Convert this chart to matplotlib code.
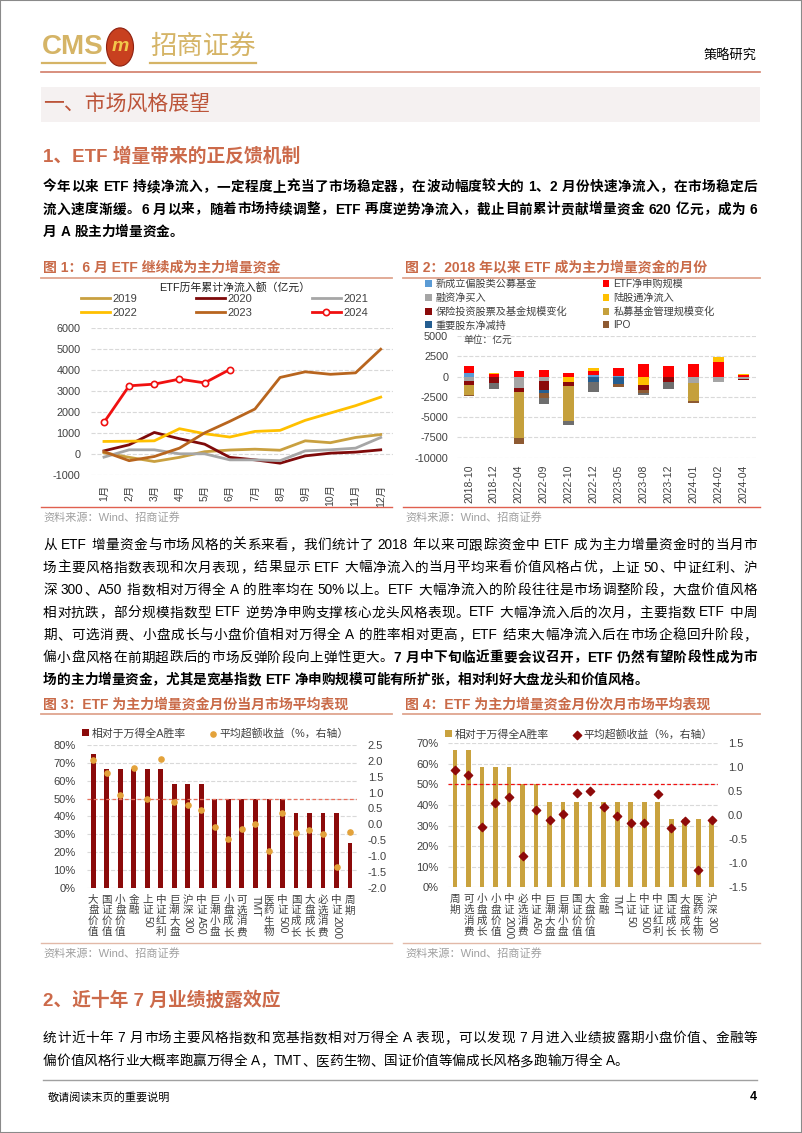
import matplotlib
matplotlib.use('Agg')
import matplotlib.pyplot as plt
from matplotlib.patches import Rectangle, Circle
from matplotlib.lines import Line2D
from matplotlib.ticker import PercentFormatter, FormatStrFormatter, MultipleLocator

plt.rcParams['font.family'] = ['Liberation Sans', 'Noto Sans CJK SC']
plt.rcParams['axes.unicode_minus'] = False

# ---------------- data ----------------
months = ['1月', '2月', '3月', '4月', '5月', '6月', '7月', '8月', '9月', '10月', '11月', '12月']
etf2019 = [50, -170, -370, -170, 100, 180, 220, 170, 620, 530, 780, 920]
etf2020 = [140, 430, 1020, 720, 460, -170, -290, -450, -100, 30, 80, 190]
etf2021 = [-160, 190, 190, 0, 0, -290, -290, -330, 140, 190, 270, 780]
etf2022 = [590, 600, 620, 1200, 960, 800, 1070, 1120, 1600, 1950, 2300, 2710]
etf2023 = [100, -330, -130, 270, 1000, 1550, 2140, 3650, 3920, 3800, 3870, 5000]
etf2024 = [1500, 3250, 3330, 3570, 3390, 4030]

flow_months = ['2018-10', '2018-12', '2022-04', '2022-09', '2022-10', '2022-12',
               '2023-05', '2023-08', '2023-12', '2024-01', '2024-02', '2024-04']
new_fund = [450, 0, 0, 0, 0, 250, 100, 0, 0, 0, 0, 0]
etf_sub = [900, 350, 650, 850, 500, 400, 1000, 1600, 1250, 1550, 1750, 200]
margin = [-500, 0, -1400, -600, 0, 0, 0, 0, 0, -800, -700, -250]
northbound = [0, 150, 0, 0, -700, 400, 0, -1100, 0, 0, 700, 150]
insurance = [-600, -800, -500, -1000, -500, 0, 0, -600, -700, 0, 0, -150]
private_fund = [-1200, 0, -5700, 0, -4300, 0, 0, 0, 0, -2200, 0, 0]
holder_sell = [0, 0, 0, -400, 0, -700, -900, 0, 0, 0, 0, 0]
ipo = [-150, 0, -700, -600, 0, 0, -400, -300, 0, -200, 0, 0]
other = [0, -750, 0, -800, -500, -1200, 0, -300, -800, 0, 0, 0]

cur_names = ['大盘价值', '国证价值', '小盘价值', '金融', '上证50', '中证红利', '巨潮大盘', '沪深300',
             '中证A50', '巨潮小盘', '小盘成长', '可选消费', 'TMT', '医药生物', '中证500', '国证成长',
             '大盘成长', '必选消费', '中证2000', '周期']
cur_win = [0.75, 0.667, 0.667, 0.667, 0.667, 0.667, 0.583, 0.583, 0.583, 0.5, 0.5, 0.5, 0.5, 0.5,
           0.5, 0.417, 0.417, 0.417, 0.417, 0.25]
cur_ret = [2.02, 1.61, 0.91, 1.79, 0.79, 2.07, 0.69, 0.62, 0.46, -0.10, -0.47, -0.15, 0.02, -0.83,
           0.34, -0.29, -0.19, -0.31, -1.34, -0.24]

nxt_names = ['周期', '可选消费', '小盘成长', '小盘价值', '中证2000', '必选消费', '中证A50', '巨潮大盘',
             '巨潮小盘', '国证价值', '大盘价值', '金融', 'TMT', '上证50', '中证500', '中证红利',
             '国证成长', '大盘成长', '医药生物', '沪深300']
nxt_win = [0.667, 0.667, 0.583, 0.583, 0.583, 0.5, 0.5, 0.417, 0.417, 0.417, 0.417, 0.417, 0.417,
           0.417, 0.417, 0.417, 0.333, 0.333, 0.333, 0.333]
nxt_ret = [0.95, 0.83, -0.24, 0.26, 0.38, -0.85, 0.12, -0.10, 0.02, 0.47, 0.50, 0.18, -0.02, -0.16,
           -0.15, 0.45, -0.26, -0.12, -1.13, -0.09]

# ---------------- page helpers ----------------
W, H = 802, 1133
fig = plt.figure(figsize=(W / 100, H / 100), dpi=100)
rend = fig.canvas.get_renderer()

TC = '#404040'
RED_T = '#C96A48'


def fx(x):
    return x / W


def fy(y):
    return 1 - y / H


def box(l, t, r, b):
    return [l / W, 1 - b / H, (r - l) / W, (b - t) / H]


def hline(x0, x1, y, c, lw=1.0):
    fig.add_artist(Line2D([fx(x0), fx(x1)], [fy(y), fy(y)], color=c, lw=lw))


def put_line(segs, y, x0=43, x1=757, size=9.8, color='black', justify=True):
    toks = []
    for s, wt in segs:
        buf = ''
        for ch in s:
            if ord(ch) < 128:
                buf += ch
            else:
                if buf:
                    toks.append((buf, wt))
                    buf = ''
                toks.append((ch, wt))
        if buf:
            toks.append((buf, wt))
    items = []
    for s, wt in toks:
        lead = len(s) - len(s.lstrip(' '))
        trail = len(s) - len(s.rstrip(' '))
        core = s.strip(' ')
        sp = size * 0.28 * 100 / 72
        if core:
            t = fig.text(0, fy(y), core, fontsize=size, fontweight=wt, color=color,
                         va='center', ha='left')
            w = t.get_window_extent(rend).width
        else:
            t, w = None, 0
        items.append((t, w, lead * sp, trail * sp))
    total = sum(w + a + b for _, w, a, b in items)
    gap = (x1 - x0 - total) / max(len(items) - 1, 1) if justify else 0
    x = x0
    for t, w, a, b in items:
        x += a
        if t is not None:
            t.set_x(fx(x))
        x += w + b + gap


def vlabels(ax, labels, size=7.6, pad=5):
    tr = ax.get_xaxis_transform()
    for i, lab in enumerate(labels):
        runs, buf = [], ''
        for ch in lab:
            if ord(ch) < 128:
                buf += ch
            else:
                if buf:
                    runs.append(buf)
                    buf = ''
                runs.append(ch)
        if buf:
            runs.append(buf)
        off = -pad
        for run in runs:
            if ord(run[0]) < 128:
                ax.annotate(run, (i, 0), xycoords=tr, xytext=(0, off), textcoords='offset points',
                            ha='center', va='top', rotation=-90, fontsize=size, color=TC)
                off -= len(run) * size * 0.58 + 1
            else:
                ax.annotate(run, (i, 0), xycoords=tr, xytext=(0, off), textcoords='offset points',
                            ha='center', va='top', fontsize=size, color=TC)
                off -= size * 1.02


def clean(ax):
    for s in ax.spines.values():
        s.set_visible(False)
    ax.tick_params(length=0, labelsize=7.8, labelcolor=TC)
    ax.set_facecolor('none')


# ---------------- header ----------------
fig.add_artist(Rectangle((0, 0), 1, 1, transform=fig.transFigure, fill=False,
                         edgecolor='#8a8a8a', lw=1.5))
fig.text(fx(104), fy(47), 'CMS', fontsize=20, color='#D5B466', fontweight='bold',
         va='center', ha='right')
fig.add_artist(Circle((fx(120), fy(47)), 13.5 / W, transform=fig.transFigure,
                      facecolor='#C8401F', edgecolor='#8E2010', lw=0.8))
fig.text(fx(120), fy(46.5), 'm', fontsize=14, color='#F2C84B', fontweight='bold',
         style='italic', va='center', ha='center')
fig.text(fx(150), fy(46), '招商证券', fontsize=19, color='#D5B466', va='center', ha='left')
hline(42, 105, 63, '#D5B466', 1.6)
hline(150, 256, 63, '#D5B466', 1.6)
fig.text(fx(757), fy(56), '策略研究', fontsize=9.5, va='center', ha='right')
hline(41, 760, 72, '#D27D68', 1.2)

fig.add_artist(Rectangle((fx(41), fy(122)), (760 - 41) / W, 35 / H, transform=fig.transFigure,
                         facecolor='#F5F1F1', edgecolor='none'))
fig.text(fx(43), fy(104), '一、市场风格展望', fontsize=15, color='#BC5439', va='center', ha='left')
fig.text(fx(43), fy(157), '1、ETF 增量带来的正反馈机制', fontsize=13.5, color='#CC6A4A',
         fontweight='bold', va='center', ha='left')

# paragraph 1
put_line([('今年以来 ETF 持续净流入，一定程度上充当了市场稳定器，在波动幅度较大的 1、2 月份快速净流入，在市场稳定后', 'bold')], 187)
put_line([('流入速度渐缓。6 月以来，随着市场持续调整，ETF 再度逆势净流入，截止目前累计贡献增量资金 620 亿元，成为 6', 'bold')], 209.5)
put_line([('月 A 股主力增量资金。', 'bold')], 232, justify=False)

# ---------------- figure titles ----------------
fig.text(fx(43), fy(268), '图 1：6 月 ETF 继续成为主力增量资金', fontsize=10, color=RED_T,
         fontweight='bold', va='center', ha='left')
fig.text(fx(405), fy(268), '图 2：2018 年以来 ETF 成为主力增量资金的月份', fontsize=10, color=RED_T,
         fontweight='bold', va='center', ha='left')
hline(41, 392, 277.5, '#DFA58F', 1.3)
hline(403, 760, 277.5, '#DFA58F', 1.3)

# ---------------- chart 1 ----------------
ax1 = fig.add_axes(box(91.4, 328.3, 393.3, 474.7))
clean(ax1)
x = list(range(1, 13))
l19, = ax1.plot(x, etf2019, color='#C9A040', lw=2.0, label='2019')
l20, = ax1.plot(x, etf2020, color='#7F0A0A', lw=2.0, label='2020')
l21, = ax1.plot(x, etf2021, color='#A6A6A6', lw=2.0, label='2021')
l22, = ax1.plot(x, etf2022, color='#FFC000', lw=2.0, label='2022')
l23, = ax1.plot(x, etf2023, color='#B8651E', lw=2.0, label='2023')
l24, = ax1.plot(x[:len(etf2024)], etf2024, color='#F01010', lw=2.0, marker='o', markersize=4.5,
                markerfacecolor='white', markeredgecolor='#F01010', markeredgewidth=1.2, label='2024')
ax1.set_xlim(0.5, 12.5)
ax1.set_ylim(-1000, 6000)
ax1.yaxis.set_major_locator(MultipleLocator(1000))
ax1.set_xticks(x)
ax1.set_xticklabels(months, rotation=90, fontsize=7.5)
ax1.tick_params(axis='y', pad=8)
ax1.tick_params(axis='x', pad=7)
ax1.grid(axis='y', color='#D9D9D9', ls='--', lw=0.8)
ax1.set_axisbelow(True)
fig.text(fx(235), fy(287), 'ETF历年累计净流入额（亿元）', fontsize=7.8, color='#222222',
         va='center', ha='center')
ax1.legend([l19, l22, l20, l23, l21, l24], ['2019', '2022', '2020', '2023', '2021', '2024'],
           ncol=3, loc='upper left', bbox_to_anchor=(fx(81), fy(294)), bbox_transform=fig.transFigure,
           frameon=False, fontsize=8, handlelength=2.6, handletextpad=0.2, columnspacing=5.35,
           labelspacing=0.35, borderpad=0, borderaxespad=0, labelcolor=TC)

# ---------------- chart 2 ----------------
ax2 = fig.add_axes(box(456.5, 336, 755.8, 457.7))
clean(ax2)
series2 = [
    (new_fund, '#5B9BD5', '新成立偏股类公募基金'),
    (etf_sub, '#FF0000', 'ETF净申购规模'),
    (margin, '#A5A5A5', '融资净买入'),
    (northbound, '#FFC000', '陆股通净流入'),
    (insurance, '#8B0A0A', '保险投资股票及基金规模变化'),
    (private_fund, '#C5A03C', '私募基金管理规模变化'),
    (holder_sell, '#255E91', '重要股东净减持'),
    (ipo, '#8E5A32', 'IPO'),
    (other, '#6E6E6E', '_其他'),
]
pos_base = [0.0] * len(flow_months)
neg_base = [0.0] * len(flow_months)
handles2 = {}
for vals, col, lab in series2:
    bottoms = []
    for i, v in enumerate(vals):
        if v >= 0:
            bottoms.append(pos_base[i])
            pos_base[i] += v
        else:
            bottoms.append(neg_base[i])
            neg_base[i] += v
    bc = ax2.bar(range(len(flow_months)), vals, bottom=bottoms, width=0.42, color=col, label=lab)
    handles2[lab] = bc
ax2.set_xlim(-0.5, len(flow_months) - 0.5)
ax2.set_ylim(-10000, 5000)
ax2.yaxis.set_major_locator(MultipleLocator(2500))
ax2.set_xticks(range(len(flow_months)))
ax2.set_xticklabels(flow_months, rotation=90, fontsize=7.5)
ax2.tick_params(axis='y', pad=6)
ax2.tick_params(axis='x', pad=5)
ax2.grid(axis='y', color='#D9D9D9', ls='--', lw=0.8)
ax2.set_axisbelow(True)
ax2.text(fx(463), fy(340), '单位：亿元', transform=fig.transFigure, fontsize=7, color=TC,
         va='center', ha='left')
order2 = ['新成立偏股类公募基金', '融资净买入', '保险投资股票及基金规模变化', '重要股东净减持',
          'ETF净申购规模', '陆股通净流入', '私募基金管理规模变化', 'IPO']
ax2.legend([handles2[k] for k in order2], order2, ncol=2, loc='upper left',
           bbox_to_anchor=(fx(425), fy(279)), bbox_transform=fig.transFigure, frameon=False,
           fontsize=7.3, handlelength=0.65, handleheight=0.65, handletextpad=0.4,
           columnspacing=3.5, labelspacing=0.35, borderpad=0, borderaxespad=0, labelcolor=TC)

fig.text(fx(43), fy(517), '资料来源：Wind、招商证券', fontsize=8, color='#A0A0A0', va='center', ha='left')
fig.text(fx(405), fy(517), '资料来源：Wind、招商证券', fontsize=8, color='#A0A0A0', va='center', ha='left')
hline(41, 392, 506.7, '#E0604F', 1.0)
hline(403, 760, 506.7, '#E0604F', 1.0)

# ---------------- paragraph 2 ----------------
p2 = [
    [('从 ETF 增量资金与市场风格的关系来看，我们统计了 2018 年以来可跟踪资金中 ETF 成为主力增量资金时的当月市', 'normal')],
    [('场主要风格指数表现和次月表现，结果显示 ETF 大幅净流入的当月平均来看价值风格占优，上证 50、中证红利、沪', 'normal')],
    [('深 300、A50 指数相对万得全 A 的胜率均在 50%以上。ETF 大幅净流入的阶段往往是市场调整阶段，大盘价值风格', 'normal')],
    [('相对抗跌，部分规模指数型 ETF 逆势净申购支撑核心龙头风格表现。ETF 大幅净流入后的次月，主要指数 ETF 中周', 'normal')],
    [('期、可选消费、小盘成长与小盘价值相对万得全 A 的胜率相对更高，ETF 结束大幅净流入后在市场企稳回升阶段，', 'normal')],
    [('偏小盘风格在前期超跌后的市场反弹阶段向上弹性更大。', 'normal'),
     ('7 月中下旬临近重要会议召开，ETF 仍然有望阶段性成为市', 'bold')],
]
for i, segs in enumerate(p2):
    put_line(segs, 545 + 22.5 * i)
put_line([('场的主力增量资金，尤其是宽基指数 ETF 净申购规模可能有所扩张，相对利好大盘龙头和价值风格。', 'bold')],
         545 + 22.5 * 6, justify=False)

# ---------------- figure 3 / 4 titles ----------------
fig.text(fx(43), fy(705), '图 3：ETF 为主力增量资金月份当月市场平均表现', fontsize=10, color=RED_T,
         fontweight='bold', va='center', ha='left')
fig.text(fx(405), fy(705), '图 4：ETF 为主力增量资金月份次月市场平均表现', fontsize=10, color=RED_T,
         fontweight='bold', va='center', ha='left')
hline(41, 392, 714, '#DFA58F', 1.3)
hline(403, 760, 714, '#DFA58F', 1.3)

# ---------------- chart 3 ----------------
ax3 = fig.add_axes(box(86.5, 745, 356.8, 887.7))
clean(ax3)
b3 = ax3.bar(range(len(cur_names)), cur_win, width=0.36, color='#8B0A0A', label='相对于万得全A胜率')
ax3.axhline(0.5, color='#E8705E', ls='--', lw=0.9, dashes=(3, 2))
ax3.set_xlim(-0.5, len(cur_names) - 0.5)
ax3.set_ylim(0, 0.8)
ax3.yaxis.set_major_locator(MultipleLocator(0.1))
ax3.yaxis.set_major_formatter(PercentFormatter(1.0, decimals=0))
ax3.set_xticks([])
ax3.tick_params(axis='y', pad=8, labelsize=8)
ax3.grid(axis='y', color='#D9D9D9', ls='--', lw=0.8)
ax3.set_axisbelow(True)
ax3r = ax3.twinx()
clean(ax3r)
s3 = ax3r.scatter(range(len(cur_names)), cur_ret, s=14, color='#E3A23A', zorder=3,
                  label='平均超额收益（%，右轴）')
ax3r.set_ylim(-2.0, 2.5)
ax3r.yaxis.set_major_locator(MultipleLocator(0.5))
ax3r.yaxis.set_major_formatter(FormatStrFormatter('%.1f'))
ax3r.tick_params(axis='y', pad=8, labelsize=8)
vlabels(ax3, cur_names)
ax3.legend([b3, s3], ['相对于万得全A胜率', '平均超额收益（%，右轴）'], ncol=2, loc='center left',
           bbox_to_anchor=(fx(82), fy(733)), bbox_transform=fig.transFigure, frameon=False,
           fontsize=7.8, handlelength=0.6, handleheight=0.6, handletextpad=0.3, columnspacing=2.2,
           borderpad=0, borderaxespad=0, labelcolor=TC)

# ---------------- chart 4 ----------------
ax4 = fig.add_axes(box(448.2, 743.3, 718.4, 887.3))
clean(ax4)
b4 = ax4.bar(range(len(nxt_names)), nxt_win, width=0.36, color='#C9A23E', label='相对于万得全A胜率')
ax4.axhline(0.5, color='#F01010', ls='--', lw=0.9, dashes=(3, 2))
ax4.set_xlim(-0.5, len(nxt_names) - 0.5)
ax4.set_ylim(0, 0.7)
ax4.yaxis.set_major_locator(MultipleLocator(0.1))
ax4.yaxis.set_major_formatter(PercentFormatter(1.0, decimals=0))
ax4.set_xticks([])
ax4.tick_params(axis='y', pad=7, labelsize=8)
ax4.grid(axis='y', color='#D9D9D9', ls='--', lw=0.8)
ax4.set_axisbelow(True)
ax4r = ax4.twinx()
clean(ax4r)
s4 = ax4r.scatter(range(len(nxt_names)), nxt_ret, s=18, marker='D', color='#8E0A0A', zorder=3,
                  label='平均超额收益（%，右轴）')
ax4r.set_ylim(-1.5, 1.5)
ax4r.yaxis.set_major_locator(MultipleLocator(0.5))
ax4r.yaxis.set_major_formatter(FormatStrFormatter('%.1f'))
ax4r.tick_params(axis='y', pad=7, labelsize=8)
vlabels(ax4, nxt_names)
ax4.legend([b4, s4], ['相对于万得全A胜率', '平均超额收益（%，右轴）'], ncol=2, loc='center left',
           bbox_to_anchor=(fx(445), fy(734)), bbox_transform=fig.transFigure, frameon=False,
           fontsize=7.8, handlelength=0.6, handleheight=0.6, handletextpad=0.3, columnspacing=2.3,
           borderpad=0, borderaxespad=0, labelcolor=TC)

hline(41, 392, 943, '#E2B9A8', 1.0)
hline(403, 760, 943, '#E2B9A8', 1.0)
fig.text(fx(43), fy(953), '资料来源：Wind、招商证券', fontsize=8, color='#A0A0A0', va='center', ha='left')
fig.text(fx(405), fy(953), '资料来源：Wind、招商证券', fontsize=8, color='#A0A0A0', va='center', ha='left')

# ---------------- section 2 ----------------
fig.text(fx(43), fy(1000), '2、近十年 7 月业绩披露效应', fontsize=13.5, color='#CC6A4A',
         fontweight='bold', va='center', ha='left')
put_line([('统计近十年 7 月市场主要风格指数和宽基指数相对万得全 A 表现，可以发现 7 月进入业绩披露期小盘价值、金融等', 'normal')], 1038)
put_line([('偏价值风格行业大概率跑赢万得全 A，TMT、医药生物、国证价值等偏成长风格多跑输万得全 A。', 'normal')], 1061,
         justify=False)

hline(43, 757, 1080, '#A0A0A0', 1.0)
fig.text(fx(48), fy(1097), '敬请阅读末页的重要说明', fontsize=8, va='center', ha='left')
fig.text(fx(757), fy(1097), '4', fontsize=9, fontweight='bold', va='center', ha='right')

fig.savefig('out.png', dpi=100)
